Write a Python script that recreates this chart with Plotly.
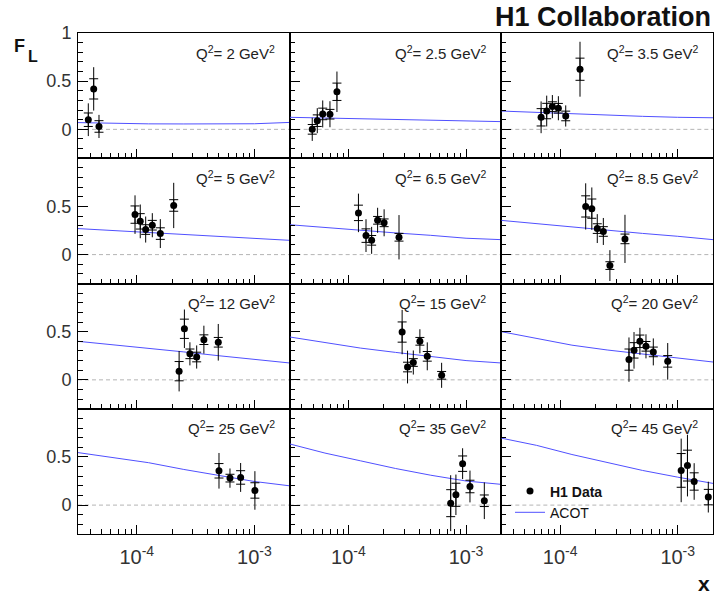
import plotly.graph_objects as go

# ---- measurements: F_L vs x in bins of Q^2 ----
q2_bins = ["2", "2.5", "3.5", "5", "6.5", "8.5", "12", "15", "20", "25", "35", "45"]

data_x = [
    [3.87e-5, 4.30e-5, 4.77e-5],
    [4.92e-5, 5.43e-5, 6.04e-5, 6.96e-5, 7.98e-5],
    [6.89e-5, 7.69e-5, 8.59e-5, 9.66e-5, 1.116e-4, 1.476e-4],
    [9.66e-5, 1.07e-4, 1.19e-4, 1.355e-4, 1.585e-4, 2.06e-4],
    [1.216e-4, 1.41e-4, 1.574e-4, 1.77e-4, 2.01e-4, 2.69e-4],
    [1.65e-4, 1.86e-4, 2.07e-4, 2.33e-4, 2.65e-4, 3.56e-4],
    [2.29e-4, 2.54e-4, 2.83e-4, 3.23e-4, 3.72e-4, 4.93e-4],
    [2.86e-4, 3.18e-4, 3.56e-4, 4.05e-4, 4.68e-4, 6.2e-4],
    [3.85e-4, 4.25e-4, 4.77e-4, 5.37e-4, 6.2e-4, 8.22e-4],
    [5.0e-4, 6.2e-4, 7.64e-4, 1.01e-3],
    [7.4e-4, 8.2e-4, 9.35e-4, 1.08e-3, 1.43e-3],
    [1.07e-3, 1.21e-3, 1.38e-3, 1.82e-3],
]

data_fl = [
    [0.10, 0.42, 0.03],
    [0.00, 0.09, 0.16, 0.157, 0.39],
    [0.125, 0.19, 0.236, 0.219, 0.139, 0.624],
    [0.415, 0.345, 0.26, 0.305, 0.218, 0.51],
    [0.433, 0.197, 0.148, 0.356, 0.33, 0.18],
    [0.50, 0.477, 0.27, 0.24, -0.114, 0.163],
    [0.09, 0.53, 0.27, 0.237, 0.417, 0.39],
    [0.496, 0.133, 0.18, 0.40, 0.244, 0.047],
    [0.21, 0.306, 0.40, 0.348, 0.29, 0.192],
    [0.356, 0.28, 0.287, 0.152],
    [0.02, 0.107, 0.43, 0.193, 0.045],
    [0.36, 0.41, 0.245, 0.083],
]

err_stat = [
    [0.07, 0.105, 0.06],
    [0.05, 0.06, 0.06, 0.05, 0.09],
    [0.09, 0.08, 0.05, 0.05, 0.05, 0.115],
    [0.09, 0.08, 0.05, 0.05, 0.06, 0.06],
    [0.08, 0.07, 0.05, 0.04, 0.04, 0.04],
    [0.11, 0.10, 0.05, 0.05, 0.04, 0.05],
    [0.10, 0.10, 0.05, 0.05, 0.05, 0.05],
    [0.105, 0.05, 0.04, 0.04, 0.05, 0.04],
    [0.11, 0.08, 0.065, 0.05, 0.05, 0.06],
    [0.075, 0.04, 0.07, 0.08],
    [0.14, 0.12, 0.08, 0.065, 0.06],
    [0.175, 0.16, 0.09, 0.08],
]

err_total = [
    [0.17, 0.225, 0.12],
    [0.12, 0.13, 0.14, 0.135, 0.21],
    [0.165, 0.16, 0.12, 0.125, 0.11, 0.285],
    [0.20, 0.175, 0.135, 0.125, 0.15, 0.235],
    [0.20, 0.17, 0.14, 0.13, 0.14, 0.23],
    [0.24, 0.22, 0.15, 0.14, 0.16, 0.25],
    [0.21, 0.20, 0.12, 0.12, 0.145, 0.19],
    [0.23, 0.17, 0.125, 0.125, 0.145, 0.13],
    [0.23, 0.19, 0.14, 0.125, 0.14, 0.19],
    [0.185, 0.10, 0.15, 0.20],
    [0.29, 0.21, 0.16, 0.165, 0.19],
    [0.33, 0.32, 0.19, 0.16],
]

# ---- ACOT prediction, sampled in x ----
acot_x = [3.16e-5, 6.31e-5, 1.26e-4, 2.51e-4, 5.01e-4, 1.0e-3, 2.0e-3]
acot_fl = [
    [0.07, 0.06, 0.057, 0.056, 0.056, 0.058, 0.072],
    [0.125, 0.118, 0.11, 0.103, 0.097, 0.09, 0.08],
    [0.19, 0.175, 0.16, 0.148, 0.135, 0.125, 0.12],
    [0.27, 0.25, 0.23, 0.21, 0.19, 0.163, 0.148],
    [0.31, 0.28, 0.25, 0.225, 0.20, 0.17, 0.155],
    [0.355, 0.32, 0.29, 0.255, 0.22, 0.19, 0.155],
    [0.40, 0.365, 0.33, 0.29, 0.25, 0.21, 0.175],
    [0.445, 0.385, 0.33, 0.285, 0.24, 0.20, 0.175],
    [0.50, 0.43, 0.36, 0.31, 0.27, 0.225, 0.185],
    [0.545, 0.49, 0.44, 0.37, 0.305, 0.245, 0.20],
    [0.635, 0.54, 0.46, 0.38, 0.31, 0.25, 0.215],
    [0.695, 0.62, 0.525, 0.44, 0.36, 0.29, 0.225],
]

x_tick_vals = [1e-4, 1e-3]
x_tick_text = ["10<sup>-4</sup>", "10<sup>-3</sup>"]
y_tick_vals = [0, 0.5, 1]

# ---- page geometry (pixels) ----
W, H = 715, 594
COL_EDGES = [78, 289.67, 501.33, 713]
ROW_TOP, ROW_H = 33, 125.25
FONT = "Liberation Sans, Arial, Helvetica, sans-serif"
TEXT_COLOR = "#333333"
ACOT_COLOR = "rgb(80,80,255)"

minor_x = [m * 10.0 ** e for e in (-5, -4, -3) for m in range(2, 10)]
minor_y = [round(-0.3 + 0.1 * k, 2) for k in range(14)]

fig = go.Figure()
layout = {}
annotations = []
shapes = []

for i in range(12):
    r, c = divmod(i, 3)
    n = i + 1
    xname = "x" if n == 1 else f"x{n}"
    yname = "y" if n == 1 else f"y{n}"
    xkey = "xaxis" if n == 1 else f"xaxis{n}"
    ykey = "yaxis" if n == 1 else f"yaxis{n}"
    last = (n == 12)

    x0, x1 = COL_EDGES[c], COL_EDGES[c + 1]
    top = ROW_TOP + r * ROW_H
    bot = top + ROW_H

    layout[xkey] = dict(
        type="log", range=[-4.5, -2.7], domain=[x0 / W, x1 / W], anchor=yname,
        automargin=False,
        showline=True, linecolor="black", linewidth=1, mirror=True,
        showgrid=False, zeroline=False,
        ticks="inside", ticklen=9, tickwidth=1, tickcolor="black",
        tickmode="array", tickvals=x_tick_vals, ticktext=x_tick_text,
        showticklabels=(r == 3), ticklabelstandoff=5,
        tickfont=dict(family=FONT, size=20, color=TEXT_COLOR),
        minor=dict(ticks="inside", ticklen=5, tickwidth=1, tickcolor="black",
                   tickmode="array", tickvals=minor_x, showgrid=False),
    )
    layout[ykey] = dict(
        range=[-0.3, 1.0], domain=[1 - bot / H, 1 - top / H], anchor=xname,
        automargin=False,
        showline=True, linecolor="black", linewidth=1, mirror=True,
        showgrid=False, zeroline=False,
        ticks="inside", ticklen=10, tickwidth=1, tickcolor="black",
        tickmode="array", tickvals=y_tick_vals,
        ticktext=["0", "0.5", "1" if r == 0 else ""],
        showticklabels=(c == 0), ticklabelstandoff=2,
        tickfont=dict(family=FONT, size=18, color=TEXT_COLOR),
        minor=dict(ticks="inside", ticklen=5, tickwidth=1, tickcolor="black",
                   tickmode="array", tickvals=minor_y, showgrid=False),
    )

    # dashed zero reference
    shapes.append(dict(type="line", xref=f"{xname} domain", yref=yname,
                       x0=0, x1=1, y0=0, y1=0, layer="below",
                       line=dict(color="#b4b4b4", width=1, dash="4px,3px")))

    # ACOT curve
    fig.add_trace(go.Scatter(
        x=acot_x, y=acot_fl[i], mode="lines", xaxis=xname, yaxis=yname,
        line=dict(color=ACOT_COLOR, width=1),
        name="ACOT", showlegend=last, legendrank=2,
    ))
    # statistical error (inner ticks)
    fig.add_trace(go.Scatter(
        x=data_x[i], y=data_fl[i], mode="markers", xaxis=xname, yaxis=yname,
        marker=dict(size=1, color="rgba(0,0,0,0)"),
        error_y=dict(type="data", array=err_stat[i], color="black",
                     thickness=1, width=4.5),
        showlegend=False, hoverinfo="skip",
    ))
    # total error + data points
    fig.add_trace(go.Scatter(
        x=data_x[i], y=data_fl[i], mode="markers", xaxis=xname, yaxis=yname,
        marker=dict(size=7, color="black", symbol="circle"),
        error_y=dict(type="data", array=err_total[i], color="black",
                     thickness=1, width=0),
        name="<b>H1 Data</b>", showlegend=last, legendrank=1,
    ))

    # Q^2 label in the panel corner
    annotations.append(dict(
        text=f"Q<sup>2</sup>= {q2_bins[i]} GeV<sup>2</sup>",
        xref="paper", yref="paper", x=(x1 - 13) / W, y=1 - (top + 19) / H,
        xanchor="right", yanchor="middle", showarrow=False,
        font=dict(family=FONT, size=15, color="#222222"),
    ))

annotations += [
    dict(text="<b>H1 Collaboration</b>", xref="paper", yref="paper",
         x=713 / W, y=1 - 17 / H, xanchor="right", yanchor="middle",
         showarrow=False, font=dict(family=FONT, size=27, color="#111111")),
    dict(text="<b>F</b>", xref="paper", yref="paper",
         x=19 / W, y=1 - 46 / H, xanchor="center", yanchor="middle",
         showarrow=False, font=dict(family=FONT, size=18, color="#111111")),
    dict(text="<b>L</b>", xref="paper", yref="paper",
         x=33 / W, y=1 - 56 / H, xanchor="center", yanchor="middle",
         showarrow=False, font=dict(family=FONT, size=16, color="#111111")),
    dict(text="<b>x</b>", xref="paper", yref="paper",
         x=712 / W, y=1 - 583 / H, xanchor="right", yanchor="middle",
         showarrow=False, font=dict(family=FONT, size=21, color="#111111")),
]

fig.update_layout(
    width=W, height=H,
    margin=dict(l=0, r=0, t=0, b=0, pad=0, autoexpand=False),
    paper_bgcolor="white", plot_bgcolor="white",
    annotations=annotations, shapes=shapes,
    showlegend=True,
    legend=dict(x=510 / W, y=1 - 475.5 / H, xanchor="left", yanchor="top",
                bgcolor="rgba(0,0,0,0)", borderwidth=0,
                font=dict(family=FONT, size=14, color="#111111"),
                tracegroupgap=4, itemwidth=30),
    **layout,
)

fig.write_html("out.html")
